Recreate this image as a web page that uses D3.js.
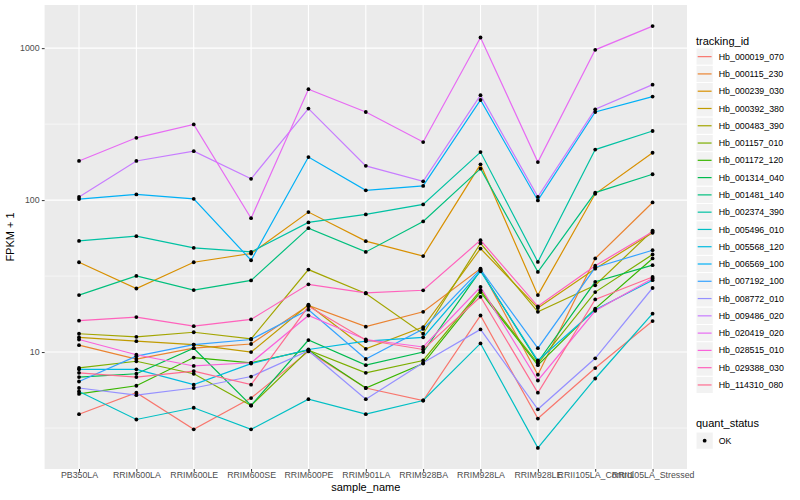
<!DOCTYPE html>
<html><head><meta charset="utf-8">
<script src="https://cdn.jsdelivr.net/npm/d3@7/dist/d3.min.js"></script>
<style>
body{margin:0;background:#fff}
svg{display:block;font-family:"Liberation Sans",Arial,Helvetica,sans-serif}
</style>
</head><body>
<svg id="chart" width="800" height="500"></svg>
<script>
// ---- data (FPKM + 1) ----
const samples = ["PB350LA","RRIM600LA","RRIM600LE","RRIM600SE","RRIM600PE","RRIM901LA","RRIM928BA","RRIM928LA","RRIM928LE","RRII105LA_Control","RRII105LA_Stressed"];
const trackingIds = ["Hb_000019_070","Hb_000115_230","Hb_000239_030","Hb_000392_380","Hb_000483_390","Hb_001157_010","Hb_001172_120","Hb_001314_040","Hb_001481_140","Hb_002374_390","Hb_005496_010","Hb_005568_120","Hb_006569_100","Hb_007192_100","Hb_008772_010","Hb_009486_020","Hb_020419_020","Hb_028515_010","Hb_029388_030","Hb_114310_080"];
const seriesColors = ["#F8766D","#EA8331","#D89000","#C09B00","#A3A500","#7CAE00","#39B600","#00BB4E","#00BF7D","#00C1A3","#00BFC4","#00BAE0","#00B0F6","#35A2FF","#9590FF","#C77CFF","#E76BF3","#FA62DB","#FF62BC","#FF6C91"];

const hb000019_070 = [3.9, 5.4, 3.1, 4.98, 10.1, 5.8, 4.8, 17.4, 3.65, 7.85, 16.0];
const hb000115_230 = [11.1, 9.0, 10.6, 11.3, 20.3, 14.7, 18.4, 35.4, 7.1, 41.3, 96.5];
const hb000239_030 = [39, 26.2, 39, 44.5, 83.4, 53.7, 42.8, 172, 23.7, 110, 205];
const hb000392_380 = [12.5, 11.8, 11.2, 10.0, 20.5, 10.5, 14.6, 48, 19.5, 35.4, 61];
const hb000483_390 = [13.2, 12.6, 13.5, 12.2, 34.9, 24.3, 13.2, 52, 18.4, 27.5, 63];
const hb001157_010 = [7.86, 8.7, 7.2, 4.45, 10.3, 7.3, 8.8, 25.5, 8.4, 24.8, 43.9];
const hb001172_120 = [5.3, 6.0, 9.2, 8.5, 10.3, 5.8, 8.4, 24.8, 8.2, 19.3, 41.3];
const hb001314_040 = [6.85, 7.2, 10.6, 4.45, 12.0, 8.2, 10.0, 34.5, 8.6, 29.0, 37.3];
const hb001481_140 = [23.7, 31.7, 25.6, 29.6, 65.4, 45.6, 72.4, 161, 33.7, 112, 148];
const hb002374_390 = [53.9, 57.9, 48.5, 45.6, 71.3, 80.5, 93.7, 207, 39.2, 215, 285];
const hb005496_010 = [5.5, 3.6, 4.3, 3.1, 4.9, 3.9, 4.8, 11.4, 2.34, 6.7, 17.9];
const hb005568_120 = [7.7, 7.7, 6.1, 8.4, 10.4, 11.8, 12.5, 34, 8.8, 19.0, 29.7];
const hb006569_100 = [101.5, 109, 102, 40.2, 192, 116, 124, 456, 99.5, 380, 480];
const hb007192_100 = [6.4, 9.4, 11.2, 12.1, 19.0, 9.0, 14.2, 35, 10.6, 36, 46.8];
const hb008772_010 = [5.8, 5.2, 5.8, 6.9, 10.2, 4.9, 8.5, 14.1, 4.2, 9.1, 26.4];
const hb009486_020 = [105, 181, 210, 138, 400, 168, 133, 490, 105, 396, 575];
const hb020419_020 = [181, 257, 315, 76, 537, 380, 241, 1175, 178, 975, 1397];
const hb028515_010 = [12.1, 9.6, 8.1, 8.5, 17.4, 12.1, 10.8, 26.8, 6.5, 18.7, 30.5];
const hb029388_030 = [16.1, 17.0, 14.8, 16.4, 27.9, 24.5, 25.5, 54.5, 20.0, 37, 62];
const hb114310_080 = [7.3, 6.85, 7.5, 6.1, 20.0, 12.0, 10.4, 23.1, 5.4, 22.2, 31.2];

const seriesValues = [hb000019_070,hb000115_230,hb000239_030,hb000392_380,hb000483_390,hb001157_010,hb001172_120,hb001314_040,hb001481_140,hb002374_390,hb005496_010,hb005568_120,hb006569_100,hb007192_100,hb008772_010,hb009486_020,hb020419_020,hb028515_010,hb029388_030,hb114310_080];

const yTickValues = [10, 100, 1000];
const yTickLabels = ["10", "100", "1000"];
const yMinorValues = [3.1623, 31.623, 316.23];
const quantStatus = ["OK"];

// ---- layout ----
const svg = d3.select("#chart");
const panel = {left: 44.6, right: 687, top: 5, bottom: 469};

const allVals = seriesValues.flat();
const lmin = Math.log10(d3.min(allVals)), lmax = Math.log10(d3.max(allVals));
const pad = (lmax - lmin) * 0.05;

const x = d3.scalePoint().domain(samples).range([panel.left, panel.right]).padding(0.6);
const y = d3.scaleLog().domain([Math.pow(10, lmin - pad), Math.pow(10, lmax + pad)]).range([panel.bottom, panel.top]);

// panel background
svg.append("rect").attr("x", panel.left).attr("y", panel.top)
  .attr("width", panel.right - panel.left).attr("height", panel.bottom - panel.top)
  .attr("fill", "#EBEBEB");

const grid = svg.append("g");
grid.selectAll("line.minor").data(yMinorValues).join("line")
  .attr("x1", panel.left).attr("x2", panel.right)
  .attr("y1", d => y(d)).attr("y2", d => y(d))
  .attr("stroke", "#fff").attr("stroke-width", 0.55);
grid.selectAll("line.majorY").data(yTickValues).join("line")
  .attr("x1", panel.left).attr("x2", panel.right)
  .attr("y1", d => y(d)).attr("y2", d => y(d))
  .attr("stroke", "#fff").attr("stroke-width", 1.1);
grid.selectAll("line.majorX").data(samples).join("line")
  .attr("y1", panel.top).attr("y2", panel.bottom)
  .attr("x1", d => x(d)).attr("x2", d => x(d))
  .attr("stroke", "#fff").attr("stroke-width", 1.1);

// lines
const line = d3.line().x((d, i) => x(samples[i])).y(d => y(d));
svg.append("g").selectAll("path").data(seriesValues).join("path")
  .attr("d", d => line(d))
  .attr("fill", "none")
  .attr("stroke", (d, i) => seriesColors[i])
  .attr("stroke-width", 1.2);

// points
const pts = [];
seriesValues.forEach(s => s.forEach((v, i) => pts.push([samples[i], v])));
svg.append("g").selectAll("circle").data(pts).join("circle")
  .attr("cx", d => x(d[0])).attr("cy", d => y(d[1]))
  .attr("r", 1.9).attr("fill", "#000");

// axes
const xAxis = d3.axisBottom(x).tickSize(2.75).tickPadding(0.5);
const gx = svg.append("g").attr("transform", `translate(0,${panel.bottom})`).call(xAxis);
gx.select(".domain").remove();
gx.selectAll(".tick line").attr("stroke", "#333333").attr("stroke-width", 1);
gx.selectAll(".tick text").attr("fill", "#4D4D4D").style("font-size", "8.8px")
  .style("font-family", '"Liberation Sans",Arial,sans-serif');

const yAxis = d3.axisLeft(y).tickValues(yTickValues).tickFormat((d, i) => yTickLabels[i]).tickSize(2.75).tickPadding(2.2);
const gy = svg.append("g").attr("transform", `translate(${panel.left},0)`).call(yAxis);
gy.select(".domain").remove();
gy.selectAll(".tick line").attr("stroke", "#333333").attr("stroke-width", 1);
gy.selectAll(".tick text").attr("fill", "#4D4D4D").style("font-size", "8.8px")
  .style("font-family", '"Liberation Sans",Arial,sans-serif');

// axis titles
svg.append("text").attr("x", (panel.left + panel.right) / 2).attr("y", 491)
  .attr("text-anchor", "middle").style("font-size", "11px").attr("fill", "#000").text("sample_name");
svg.append("text").attr("transform", `translate(14,${(panel.top + panel.bottom) / 2}) rotate(-90)`)
  .attr("text-anchor", "middle").style("font-size", "11px").attr("fill", "#000").text("FPKM + 1");

// legend: tracking_id
const lg = svg.append("g");
const keyX = 696, keyW = 17.28, keyH = 17.28, key0 = 48;
lg.append("text").attr("x", keyX).attr("y", 44.5).style("font-size", "11px").attr("fill", "#000").text("tracking_id");
const items = lg.selectAll("g.item").data(trackingIds).join("g")
  .attr("transform", (d, i) => `translate(${keyX},${key0 + i * keyH})`);
items.append("rect").attr("width", keyW).attr("height", keyH)
  .attr("fill", "#F2F2F2").attr("stroke", "#fff").attr("stroke-width", 1);
items.append("line").attr("x1", 1.7).attr("x2", keyW - 1.7)
  .attr("y1", keyH / 2).attr("y2", keyH / 2)
  .attr("stroke", (d, i) => seriesColors[i]).attr("stroke-width", 1.2);
items.append("text").attr("x", keyW + 5.5).attr("y", keyH / 2).attr("dy", "0.35em")
  .style("font-size", "8.8px").attr("fill", "#000").text(d => d);

// legend: quant_status
const qg = svg.append("g");
qg.append("text").attr("x", keyX).attr("y", 427).style("font-size", "11px").attr("fill", "#000").text("quant_status");
const qItems = qg.selectAll("g.q").data(quantStatus).join("g")
  .attr("transform", (d, i) => `translate(${keyX},${432 + i * keyH})`);
qItems.append("rect").attr("width", keyW).attr("height", keyH)
  .attr("fill", "#F2F2F2").attr("stroke", "#fff").attr("stroke-width", 1);
qItems.append("circle").attr("cx", keyW / 2).attr("cy", keyH / 2).attr("r", 1.9).attr("fill", "#000");
qItems.append("text").attr("x", keyW + 5.5).attr("y", keyH / 2).attr("dy", "0.35em")
  .style("font-size", "8.8px").attr("fill", "#000").text(d => d);
</script>
</body></html>
